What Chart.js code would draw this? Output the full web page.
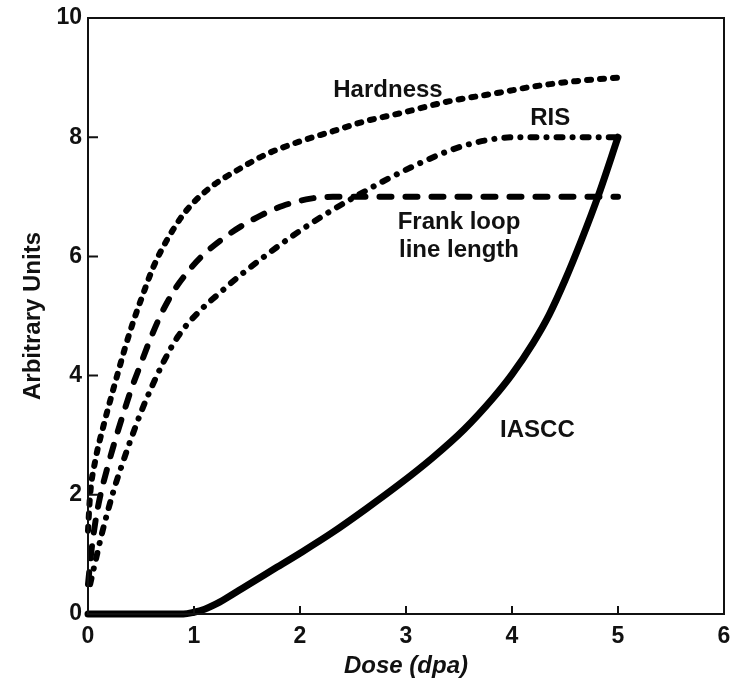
<!DOCTYPE html>
<html>
<head>
<meta charset="utf-8">
<script src="https://cdn.jsdelivr.net/npm/chart.js@4"></script>
<style>
  html, body { margin: 0; padding: 0; background: #fff; }
  #wrap { width: 732px; height: 685px; }
</style>
</head>
<body>
<div id="wrap"><canvas id="myChart"></canvas></div>
<script>
const ctx = document.getElementById('myChart');

// (dose in dpa, arbitrary units)
const hardnessX = [0, 0.02, 0.066, 0.145, 0.22, 0.286, 0.35, 0.43, 0.52, 0.616, 0.74, 0.915, 1.135, 1.45, 1.69, 2.0, 2.31, 2.62, 2.94, 3.4, 3.89, 4.2, 4.6, 5.0];
const hardnessY = [1.4, 2.0, 2.55, 3.15, 3.65, 4.07, 4.47, 4.92, 5.37, 5.82, 6.26, 6.74, 7.13, 7.49, 7.72, 7.93, 8.1, 8.27, 8.4, 8.6, 8.75, 8.85, 8.94, 9.0];

const frankX = [0, 0.035, 0.07, 0.113, 0.19, 0.27, 0.333, 0.41, 0.49, 0.585, 0.695, 0.82, 0.95, 1.06, 1.32, 1.6, 1.84, 2.1, 2.31, 5.0];
const frankY = [0.5, 1.1, 1.55, 1.96, 2.5, 3.0, 3.36, 3.78, 4.16, 4.6, 5.05, 5.45, 5.76, 5.98, 6.36, 6.66, 6.85, 6.97, 7.0, 7.0];

const risX = [0.02, 0.08, 0.13, 0.24, 0.32, 0.46, 0.54, 0.71, 0.85, 1.04, 1.29, 1.42, 2.0, 2.47, 3.09, 3.57, 4.04, 5.0];
const risY = [0.5, 0.96, 1.34, 2.06, 2.5, 3.2, 3.56, 4.22, 4.66, 5.06, 5.46, 5.66, 6.43, 6.95, 7.53, 7.87, 8.0, 8.0];

const iasccX = [0, 0.9, 1.0, 1.1, 1.2, 1.3, 1.5, 1.75, 2.0, 2.3, 2.62, 2.94, 3.25, 3.55, 3.82, 4.0, 4.2, 4.35, 4.5, 4.65, 4.82, 5.0];
const iasccY = [0, 0, 0.03, 0.08, 0.16, 0.26, 0.48, 0.75, 1.02, 1.36, 1.76, 2.18, 2.62, 3.1, 3.62, 4.02, 4.55, 5.02, 5.6, 6.25, 7.05, 8.0];

const xTicks = [0, 1, 2, 3, 4, 5, 6];
const yTicks = [0, 2, 4, 6, 8, 10];

// curve labels: text, x, y (data units)
const labels = [
    ['Hardness', 2.83, 8.78],
    ['RIS', 4.36, 8.31],
    ['Frank loop', 3.5, 6.57],
    ['line length', 3.5, 6.1],
    ['IASCC', 4.24, 3.08]
];

function pts(xs, ys) {
    return xs.map((x, i) => ({ x: x, y: ys[i] }));
}

const FONT = '"Liberation Sans", Arial, sans-serif';

const boxPlugin = {
    id: 'box',
    afterDraw(chart) {
        const c = chart.ctx;
        const a = chart.chartArea;
        const xs = chart.scales.x;
        const ys = chart.scales.y;
        c.save();
        c.strokeStyle = '#111';
        c.lineWidth = 2;
        c.strokeRect(a.left, a.top, a.right - a.left, a.bottom - a.top);
        c.beginPath();
        xTicks.forEach(v => {
            const px = xs.getPixelForValue(v);
            c.moveTo(px, a.bottom);
            c.lineTo(px, a.bottom - 8);
        });
        yTicks.forEach(v => {
            const py = ys.getPixelForValue(v);
            c.moveTo(a.left, py);
            c.lineTo(a.left + 10, py);
        });
        c.stroke();

        c.fillStyle = '#111';
        c.font = 'bold 24px ' + FONT;
        c.textAlign = 'center';
        c.textBaseline = 'middle';
        labels.forEach(l => {
            c.fillText(l[0], xs.getPixelForValue(l[1]), ys.getPixelForValue(l[2]));
        });
        c.restore();
    }
};

function curve(label, xs, ys, width, dash, cap) {
    return {
        label: label,
        data: pts(xs, ys),
        showLine: true,
        borderColor: '#000',
        borderWidth: width,
        borderDash: dash,
        borderCapStyle: cap,
        cubicInterpolationMode: 'monotone',
        pointRadius: 0,
        clip: false
    };
}

new Chart(ctx, {
    type: 'scatter',
    data: {
        datasets: [
            curve('Hardness', hardnessX, hardnessY, 6, [4, 9], 'round'),
            curve('Frank loop line length', frankX, frankY, 6, [12, 14], 'round'),
            curve('RIS', risX, risY, 6, [6, 10, 0.1, 10], 'round'),
            curve('IASCC', iasccX, iasccY, 7, [], 'round')
        ]
    },
    options: {
        responsive: true,
        maintainAspectRatio: false,
        animation: false,
        layout: { padding: { top: 18, right: 8, left: 0, bottom: 0 } },
        plugins: {
            legend: { display: false },
            tooltip: { enabled: false }
        },
        scales: {
            x: {
                type: 'linear',
                min: 0,
                max: 6,
                afterFit(s) { s.height = 71; s.paddingLeft = 0; s.paddingRight = 0; },
                afterBuildTicks(s) { s.ticks = xTicks.map(v => ({ value: v })); },
                grid: { display: false, drawTicks: false },
                border: { display: false },
                ticks: {
                    color: '#111',
                    padding: 9,
                    font: { family: FONT, size: 23, weight: 'bold' }
                },
                title: {
                    display: true,
                    text: 'Dose (dpa)',
                    color: '#111',
                    padding: { top: 0 },
                    font: { family: FONT, size: 24, weight: 'bold', style: 'italic' }
                }
            },
            y: {
                type: 'linear',
                min: 0,
                max: 10,
                afterFit(s) { s.width = 88; s.paddingTop = 0; s.paddingBottom = 0; },
                afterBuildTicks(s) { s.ticks = yTicks.map(v => ({ value: v })); },
                grid: { display: false, drawTicks: false },
                border: { display: false },
                ticks: {
                    color: '#111',
                    padding: 6,
                    font: { family: FONT, size: 23, weight: 'bold' }
                },
                title: {
                    display: true,
                    text: 'Arbitrary Units',
                    color: '#111',
                    padding: { top: 19, bottom: 4 },
                    font: { family: FONT, size: 24, weight: 'bold' }
                }
            }
        }
    },
    plugins: [boxPlugin]
});
</script>
</body>
</html>
